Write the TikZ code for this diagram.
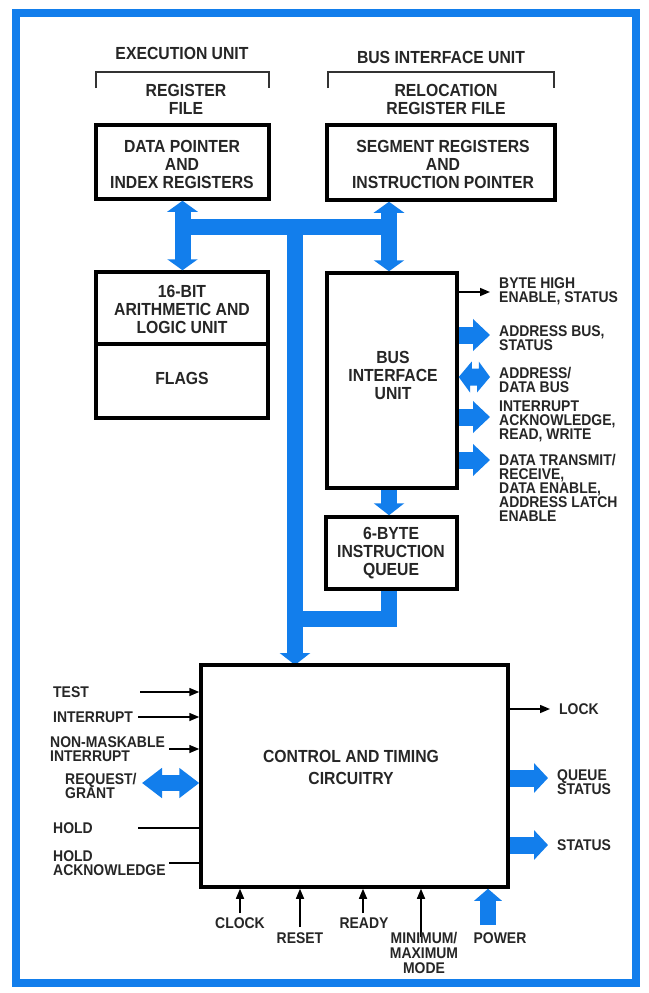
\documentclass[tikz,border=0pt]{standalone}
\usepackage{fontspec}
\setmainfont{Liberation Sans}[FakeStretch=0.9]
\usetikzlibrary{arrows.meta}
\definecolor{bblue}{RGB}{18,126,236}
\begin{document}
\begin{tikzpicture}[x=1pt,y=-1pt,
  box/.style={draw=black,line width=3.5pt,inner sep=0pt,fill=white},
  big/.style={font=\bfseries\fontsize{17.5}{18}\selectfont,align=center,inner sep=0pt,text=black!85},
  lab/.style={font=\bfseries\fontsize{15.5}{14}\selectfont,align=left,inner sep=0pt,anchor=west,text=black!85},
  clab/.style={font=\bfseries\fontsize{15.5}{15}\selectfont,align=center,inner sep=0pt,text=black!85},
  bus/.style={draw=bblue,line width=16pt,line join=miter},
  busarr/.style={bus,-{Triangle[length=12pt,width=30pt]}},
  busdbl/.style={bus,{Triangle[length=11pt,width=30pt]}-{Triangle[length=11pt,width=30pt]}},
  sidearr/.style={draw=bblue,line width=17pt,-{Triangle[length=17pt,width=31pt]}},
  tarr/.style={draw=black,line width=1.5pt,-{Triangle[length=10pt,width=8pt]}},
  tline/.style={draw=black,line width=1.5pt},
  brk/.style={draw=black!80,line width=1.4pt}
]
\useasboundingbox (0,0) rectangle (648,993);
\fill[white] (0,0) rectangle (648,993);
\draw[bblue,line width=8pt] (16,13) rectangle (636,983);

% headings
\node[big] (exh) at (182,53) {EXECUTION UNIT};
\node[big] (bih) at (441,57) {BUS INTERFACE UNIT};
\draw[brk] (96,88) -- (96,72) -- (269,72) -- (269,88);
\draw[brk] (328,88) -- (328,72) -- (554,72) -- (554,88);
\node[big] (rfh) at (186,99.5) {REGISTER\\FILE};
\node[big] (rlh) at (446,99.5) {RELOCATION\\REGISTER FILE};

% coordinates
\coordinate (rb) at (389,0);
\coordinate (busM) at (295,227);
\coordinate (qj) at (295,619);

% blue bus (drawn first)
\draw[bus] (182,227) -- (389,227);
\draw[busarr] (busM) -- (295,665);
\draw[bus] (389,589) |- (qj);

% boxes
\node[box,minimum width=173pt,minimum height=74pt] (dp) at (182.5,162) {};
\node[big] (dpt) at (182,164) {DATA POINTER\\AND\\INDEX REGISTERS};
\node[box,minimum width=228pt,minimum height=75pt] (seg) at (441,162.5) {};
\node[big] (segt) at (443,164) {SEGMENT REGISTERS\\AND\\INSTRUCTION POINTER};
\node[box,minimum width=172pt,minimum height=72pt] (alu) at (182,308) {};
\node[big] (alut) at (182,309) {16-BIT\\ARITHMETIC AND\\LOGIC UNIT};
\node[box,minimum width=172pt,minimum height=74pt] (flags) at (182,381) {};
\node[big] (flagst) at (182,378) {FLAGS};
\node[box,minimum width=130pt,minimum height=215pt] (biu) at (392,380.5) {};
\node[big] (biut) at (393,375) {BUS\\INTERFACE\\UNIT};
\node[box,minimum width=131pt,minimum height=72pt] (q) at (391.5,553) {};
\node[big] (qt) at (391,553) {6-BYTE\\INSTRUCTION\\QUEUE};
\node[box,minimum width=307pt,minimum height=222pt] (ctl) at (354.5,776) {};
\node[big,font=\bfseries\fontsize{17.5}{22}\selectfont] (ctlt) at (351,767) {CONTROL AND TIMING\\CIRCUITRY};

% bus arrows to boxes
\draw[busdbl] (dp.south) -- (dp.south |- alu.north);
\draw[busdbl] (seg.south -| rb) -- (biu.north -| rb);
\draw[busarr] (biu.south -| rb) -- (q.north -| rb);

% BIU outputs
\coordinate (b1) at (490,292);
\draw[tarr] (biu.east |- b1) -- (b1);
\node[lab] (l1) at (499,291) {BYTE HIGH\\ENABLE, STATUS};
\coordinate (b2) at (490,335);
\draw[sidearr] (biu.east |- b2) -- (b2);
\node[lab] (l2) at (499,338.5) {ADDRESS BUS,\\STATUS};
\coordinate (b3) at (490,377);
\fill[bblue] (biu.east |- b3) -- ++(13,-15.5) -- ++(0,7) -- ++(7,0) -- ++(0,-7)
  -- (b3) -- ++(-13,15.5) -- ++(0,-7) -- ++(-7,0) -- ++(0,7) -- cycle;
\node[lab] (l3) at (499,380) {ADDRESS/\\DATA BUS};
\coordinate (b4) at (490,417);
\draw[sidearr] (biu.east |- b4) -- (b4);
\node[lab] (l4) at (499,421) {INTERRUPT\\ACKNOWLEDGE,\\READ, WRITE};
\coordinate (b5) at (490,460);
\draw[sidearr] (biu.east |- b5) -- (b5);
\node[lab] (l5) at (499,488) {DATA TRANSMIT/\\RECEIVE,\\DATA ENABLE,\\ADDRESS LATCH\\ENABLE};

% control inputs left
\node[lab] (test) at (53,692) {TEST};
\coordinate (c1) at (140,692);
\draw[tarr] (c1) -- (c1 -| ctl.west);
\node[lab] (intr) at (53,717) {INTERRUPT};
\coordinate (c2) at (138,717);
\draw[tarr] (c2) -- (c2 -| ctl.west);
\node[lab] (nmi) at (50,749.5) {NON-MASKABLE\\INTERRUPT};
\coordinate (c3) at (169,749);
\draw[tarr] (c3) -- (c3 -| ctl.west);
\node[lab] (rg) at (65,785.5) {REQUEST/\\GRANT};
\coordinate (c4) at (142,783);
\draw[draw=bblue,line width=16pt,{Triangle[length=20pt,width=29pt]}-{Triangle[length=20pt,width=29pt]}] (c4) -- (c4 -| ctl.west);
\node[lab] (hold) at (53,828) {HOLD};
\coordinate (c5) at (138,828);
\draw[tline] (c5) -- (c5 -| ctl.west);
\node[lab] (hlda) at (53,863) {HOLD\\ACKNOWLEDGE};
\coordinate (c6) at (169,863);
\draw[tline] (c6) -- (c6 -| ctl.west);

% control outputs right
\coordinate (o1) at (550,709);
\draw[tarr] (ctl.east |- o1) -- (o1);
\node[lab] (lock) at (559,709) {LOCK};
\coordinate (o2) at (548,778);
\draw[draw=bblue,line width=17pt,-{Triangle[length=14pt,width=29pt]}] (ctl.east |- o2) -- (o2);
\node[lab] (qs) at (557,782) {QUEUE\\STATUS};
\coordinate (o3) at (548,845);
\draw[draw=bblue,line width=17pt,-{Triangle[length=14pt,width=29pt]}] (ctl.east |- o3) -- (o3);
\node[lab] (st) at (557,845) {STATUS};

% bottom inputs
\coordinate (d1) at (240,913);
\draw[tarr] (d1) -- (d1 |- ctl.south);
\node[clab] (clk) at (240,923) {CLOCK};
\coordinate (d2) at (300,927);
\draw[tarr] (d2) -- (d2 |- ctl.south);
\node[clab] (rst) at (300,938) {RESET};
\coordinate (d3) at (363,913);
\draw[tarr] (d3) -- (d3 |- ctl.south);
\node[clab] (rdy) at (364,923) {READY};
\coordinate (d4) at (421,937);
\draw[tarr] (d4) -- (d4 |- ctl.south);
\node[clab] (mm) at (424,953) {MINIMUM/\\MAXIMUM\\MODE};
\coordinate (d5) at (488,925);
\draw[bus,-{Triangle[length=12pt,width=27pt]}] (d5) -- (d5 |- ctl.south);
\node[clab] (pwr) at (500,938) {POWER};
\end{tikzpicture}
\end{document}
